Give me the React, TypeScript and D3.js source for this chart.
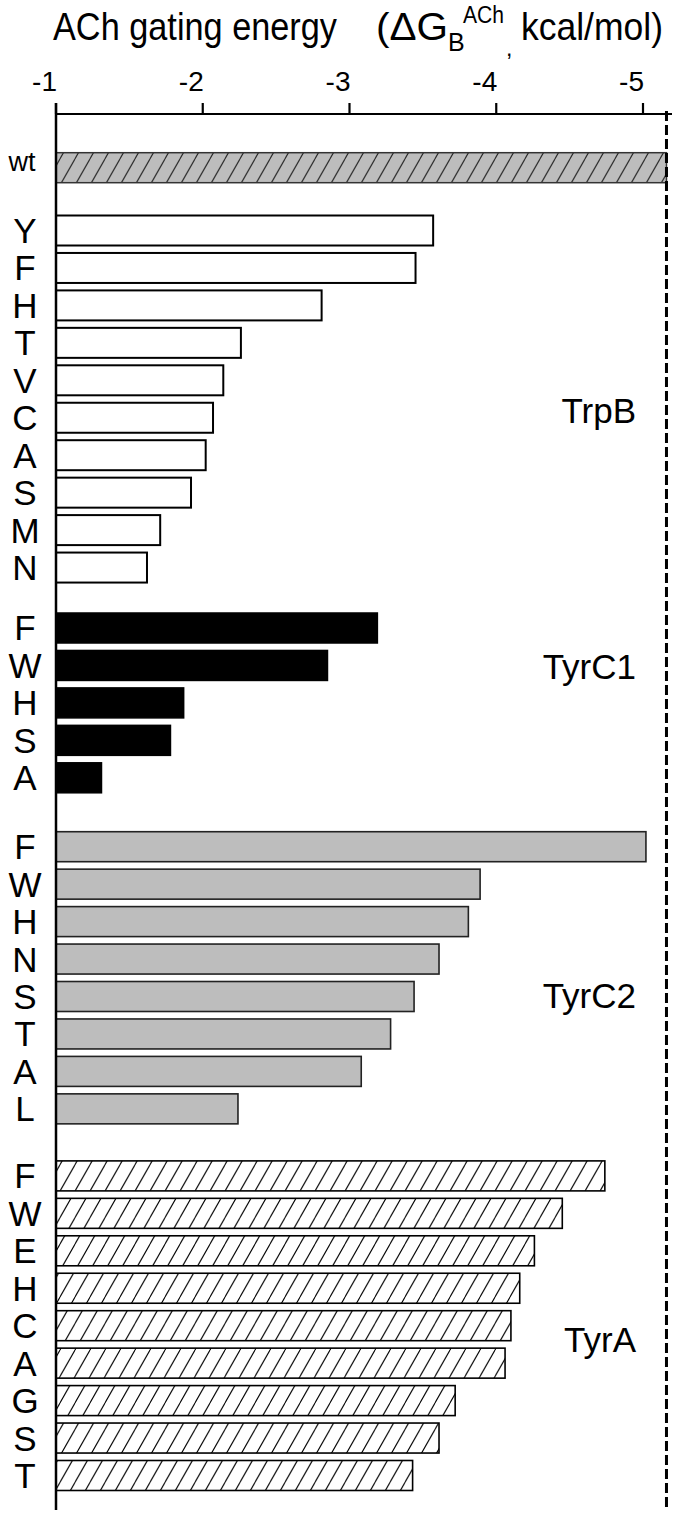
import React from "react";
import * as d3 from "d3";

// ---- data ----
const ticks = [-1, -2, -3, -4, -5];
const wtLabel = "wt";
const wtValue = -5.16;

const groupNames = ["TrpB", "TyrC1", "TyrC2", "TyrA"];
const trpBLabels = ["Y", "F", "H", "T", "V", "C", "A", "S", "M", "N"];
const trpBValues = [-3.57, -3.45, -2.81, -2.26, -2.14, -2.07, -2.02, -1.92, -1.71, -1.62];
const tyrC1Labels = ["F", "W", "H", "S", "A"];
const tyrC1Values = [-3.19, -2.85, -1.87, -1.78, -1.31];
const tyrC2Labels = ["F", "W", "H", "N", "S", "T", "A", "L"];
const tyrC2Values = [-5.02, -3.89, -3.81, -3.61, -3.44, -3.28, -3.08, -2.24];
const tyrALabels = ["F", "W", "E", "H", "C", "A", "G", "S", "T"];
const tyrAValues = [-4.74, -4.45, -4.26, -4.16, -4.1, -4.06, -3.72, -3.61, -3.43];

// ---- layout ----
const W = 677;
const H = 1518;
const FONT = "'Liberation Sans', Arial, Helvetica, sans-serif";
const axisY = 114;
const axisBottom = 1510;
const barH = 30;
const pitch = 37.45;
const firstRowY = 167.7;
// extra gap (in row units) before each group
const groupGaps = [0.677, 0.614, 0.84, 0.79];
// group label position (row units from group's first row)
const groupLabelOffsets = [4.82, 1.04, 3.99, 4.38];

const styles = [
  { fill: "#ffffff", stroke: "#000", sw: 2 },
  { fill: "#000000", stroke: "#000", sw: 1.5 },
  { fill: "#bdbdbd", stroke: "#222", sw: 1.6 },
  { fill: "url(#hatchWhite)", stroke: "#000", sw: 1.6 },
];

export default function App() {
  const x = d3.scaleLinear().domain([-1, -5]).range([56, 643]);
  const y = d3.scaleLinear().domain([0, 1]).range([firstRowY, firstRowY + pitch]);

  const groups = [
    { labels: trpBLabels, values: trpBValues },
    { labels: tyrC1Labels, values: tyrC1Values },
    { labels: tyrC2Labels, values: tyrC2Values },
    { labels: tyrALabels, values: tyrAValues },
  ];

  type Row = { label: string; value: number; slot: number; g: number };
  const rows: Row[] = [];
  const groupStart: number[] = [];
  let slot = 1; // slot 0 is wt
  groups.forEach((g, gi) => {
    slot += groupGaps[gi];
    groupStart.push(slot);
    g.labels.forEach((l, i) => {
      rows.push({ label: l, value: g.values[i], slot, g: gi });
      slot += 1;
    });
  });

  const hatchW = 15;
  const hatchH = (hatchW * 30) / 17;
  const hatchPath = `M${-hatchW},${hatchH} L0,0 M0,${hatchH} L${hatchW},0 M${hatchW},${hatchH} L${2 * hatchW},0`;

  const dashX = x(wtValue);

  return (
    <svg
      width={W}
      height={H}
      viewBox={`0 0 ${W} ${H}`}
      style={{ position: "absolute", left: 0, top: 0, background: "#fff" }}
      fontFamily={FONT}
    >
      <defs>
        <pattern id="hatchWhite" patternUnits="userSpaceOnUse" width={hatchW} height={hatchH}>
          <rect width={hatchW} height={hatchH} fill="#fff" />
          <path d={hatchPath} stroke="#000" strokeWidth={1.1} fill="none" />
        </pattern>
        <pattern id="hatchGray" patternUnits="userSpaceOnUse" width={hatchW} height={hatchH}>
          <rect width={hatchW} height={hatchH} fill="#bdbdbd" />
          <path d={hatchPath} stroke="#222" strokeWidth={1.1} fill="none" />
        </pattern>
      </defs>
      <rect x={0} y={0} width={W} height={H} fill="#fff" />

      {/* title */}
      <g fontSize={39} fill="#000">
        <text x={53} y={40} textLength={284} lengthAdjust="spacingAndGlyphs">ACh gating energy</text>
        <text x={376} y={40} textLength={72} lengthAdjust="spacingAndGlyphs">(ΔG</text>
        <text x={448} y={51} fontSize={25}>B</text>
        <text x={463} y={23} fontSize={23} textLength={41} lengthAdjust="spacingAndGlyphs">ACh</text>
        <text x={506} y={56} fontSize={23}>,</text>
        <text x={521} y={40} textLength={142} lengthAdjust="spacingAndGlyphs">kcal/mol)</text>
      </g>

      {/* tick labels */}
      {ticks.map((t) => (
        <text key={t} x={x(t) + 1} y={91} fontSize={28} textAnchor="end">
          {String(t)}
        </text>
      ))}

      {/* wt bar */}
      <rect
        x={x(-1)}
        y={y(0) - barH / 2}
        width={x(wtValue) - x(-1)}
        height={barH}
        fill="url(#hatchGray)"
        stroke="#333"
        strokeWidth={1.5}
      />
      <text x={22} y={y(0) + 3} fontSize={27} textAnchor="middle">{wtLabel}</text>

      {/* bars */}
      {rows.map((r, i) => {
        const s = styles[r.g];
        return (
          <g key={i}>
            <rect
              x={x(-1)}
              y={y(r.slot) - barH / 2}
              width={x(r.value) - x(-1)}
              height={barH}
              fill={s.fill}
              stroke={s.stroke}
              strokeWidth={s.sw}
            />
            <text x={25} y={y(r.slot) + 12.5} fontSize={35} textAnchor="middle">
              {r.label}
            </text>
          </g>
        );
      })}

      {/* group labels */}
      {groupNames.map((n, gi) => (
        <text key={n} x={636} y={y(groupStart[gi] + groupLabelOffsets[gi]) + 12} fontSize={35} textAnchor="end">
          {n}
        </text>
      ))}

      {/* axes */}
      <line x1={x(-1)} x2={672} y1={axisY} y2={axisY} stroke="#000" strokeWidth={2.2} />
      {ticks.map((t) => (
        <line key={t} x1={x(t)} x2={x(t)} y1={axisY - 11} y2={axisY} stroke="#000" strokeWidth={2.2} />
      ))}
      <line x1={x(-1)} x2={x(-1)} y1={axisY - 11} y2={axisBottom} stroke="#000" strokeWidth={2.5} />
      <line x1={dashX} x2={dashX} y1={axisY - 3} y2={axisBottom} stroke="#000" strokeWidth={3} strokeDasharray="10,4" />
    </svg>
  );
}
